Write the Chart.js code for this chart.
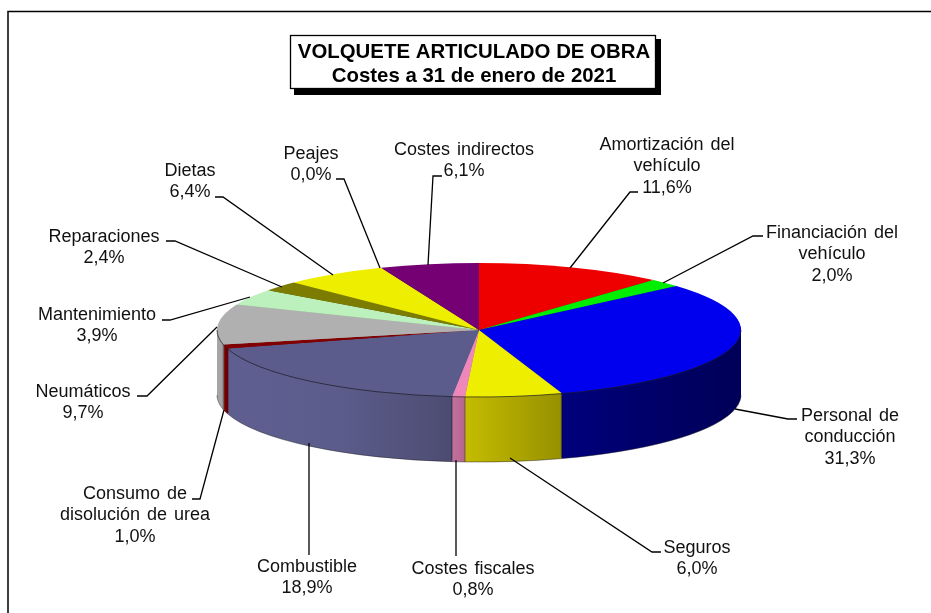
<!DOCTYPE html>
<html lang="es">
<head>
<meta charset="utf-8">
<title>Volquete articulado de obra</title>
<style>html,body{margin:0;padding:0;background:#fff}canvas{display:block}</style>
<script src="https://cdn.jsdelivr.net/npm/chart.js@4"></script>
</head>
<body>
<canvas id="c" width="931" height="613"></canvas>
<script>
const titleLines = ['VOLQUETE ARTICULADO DE OBRA', 'Costes a 31 de enero de 2021'];
const categories = ['Amortización del vehículo','Financiación del vehículo','Personal de conducción','Seguros','Costes fiscales','Combustible','Consumo de disolución de urea','Neumáticos','Mantenimiento','Reparaciones','Dietas','Peajes','Costes indirectos'];
const values = [11.6, 2.0, 31.3, 6.0, 0.8, 18.9, 1.0, 9.7, 3.9, 2.4, 6.4, 0.0, 6.1];

const topColors = ['#ee0000','#00ee00','#0000ee','#eeee00','#ee88bb','#5c5c8c','#800000','#b0b0b0','#bcf0bc','#7c7c00','#eeee00','#c0c0ff','#740074'];
const sideColors = [
  ['#990000','#990000','#990000'],['#009900','#009900','#009900'],['#00007c','#000068','#000058'],['#c4bc00','#aea600','#969000'],['#c4709e','#bc6c96','#b4668e'],
  ['#5e5e90','#5c5c8c','#4c4c72'],['#7a0000','#7a0000','#7a0000'],['#a6a6a6','#a0a0a0','#9a9a9a'],['#90b890','#90b890','#90b890'],['#505000','#505000','#505000'],
  ['#999900','#999900','#999900'],['#8080a0','#8080a0','#8080a0'],['#4c004c','#4c004c','#4c004c']
];
const labelBreaks = [['Amortización del','vehículo'],['Financiación del','vehículo'],['Personal de','conducción'],['Seguros'],['Costes fiscales'],['Combustible'],['Consumo de','disolución de urea'],['Neumáticos'],['Mantenimiento'],['Reparaciones'],['Dietas'],['Peajes'],['Costes indirectos']];
// label layout: centre x, y of first line
const labelAnchors = [[667,145],[832,233],[850,416],[697,548],[473,569],[307,567],[135,494],[83,392],[97,315],[104,237],[190,171],[311,154],[464,150]];
const leaderPaths = [
  [[638,192],[630,192],[570,268]],
  [[763,236],[753,236],[663,283]],
  [[797,419],[788,419],[735,409]],
  [[661,552],[652,552],[510,458]],
  [[456,556],[456,460]],
  [[309,555],[309,443]],
  [[192,499],[200,499],[224,410]],
  [[137,396],[147,396],[217,327]],
  [[162,320],[170,320],[250,297]],
  [[166,241],[175,241],[282,287]],
  [[215,197],[223,197],[333,275]],
  [[336,179],[344,179],[380,268]],
  [[442,176],[433,176],[428,265]]
];
const lineStep = 21.3;
const tilt = 67 / 262;
const depth = 65;

function xRange(arc) {
  const cx = arc.x, r = arc.outerRadius;
  const xs = [cx + r*Math.cos(arc.startAngle), cx + r*Math.cos(arc.endAngle)];
  const has = a => { for (let k=-2;k<=2;k++){const t=a+k*2*Math.PI; if(t>=arc.startAngle&&t<=arc.endAngle) return true;} return false; };
  if (has(Math.PI)) xs.push(cx-r);
  if (has(0)) xs.push(cx+r);
  return [Math.min(...xs), Math.max(...xs)];
}
function plainOpts(bg) {
  return {backgroundColor:bg,borderColor:bg,borderWidth:0,borderAlign:'center',borderJoinStyle:'round',borderRadius:0,offset:0,spacing:0,angle:0,circular:true,borderDash:[],borderDashOffset:0,selfJoin:false};
}
function lowerEdge(ctx, arc, dy) {
  const s = Math.max(arc.startAngle, 0), e = Math.min(arc.endAngle, Math.PI);
  if (e <= s) return;
  ctx.beginPath();
  ctx.ellipse(arc.x, arc.y + dy, arc.outerRadius, arc.outerRadius*tilt, 0, s, e);
  ctx.stroke();
}

const pie3d = {
  id: 'pie3d',
  beforeDraw(chart) {
    const ctx = chart.ctx;
    ctx.save();
    ctx.fillStyle = '#fff';
    ctx.fillRect(0,0,chart.width,chart.height);
    ctx.strokeStyle = '#000';
    ctx.lineWidth = 1.5;
    ctx.beginPath();
    ctx.moveTo(931,11.5); ctx.lineTo(8,11.5); ctx.lineTo(8,613);
    ctx.stroke();
    ctx.restore();
  },
  beforeDatasetDraw(chart) {
    const ctx = chart.ctx;
    const arcs = chart.getDatasetMeta(0).data;
    const cx = arcs[0].x, cy = arcs[0].y;
    const grads = arcs.map((a,i) => {
      const [x0,x1] = xRange(a);
      const g = ctx.createLinearGradient(x0,0,Math.max(x1,x0+1),0);
      g.addColorStop(0,sideColors[i][0]);
      g.addColorStop(0.5,sideColors[i][1]);
      g.addColorStop(1,sideColors[i][2]);
      return g;
    });
    for (let d = depth; d >= 1; d--) {
      ctx.save();
      ctx.translate(cx, cy + d);
      ctx.scale(1, tilt);
      ctx.translate(-cx, -cy);
      arcs.forEach((a,i) => {
        const p = Object.create(a);
        p.options = plainOpts(grads[i]);
        p.draw(ctx);
      });
      ctx.restore();
    }
    ctx.save();
    ctx.translate(cx, cy);
    ctx.scale(1, tilt);
    ctx.translate(-cx, -cy);
  },
  afterDatasetDraw(chart) {
    const ctx = chart.ctx;
    ctx.restore();
    const arcs = chart.getDatasetMeta(0).data;
    ctx.save();
    ctx.lineWidth = 1;
    arcs.forEach(a => {
      ctx.strokeStyle = 'rgba(25,25,35,.7)';
      lowerEdge(ctx, a, 0);
      ctx.strokeStyle = 'rgba(30,30,30,.45)';
      lowerEdge(ctx, a, depth);
      if (a.endAngle > 0 && a.endAngle < Math.PI) {
        const x = a.x + a.outerRadius*Math.cos(a.endAngle);
        const y = a.y + a.outerRadius*tilt*Math.sin(a.endAngle);
        ctx.strokeStyle = 'rgba(0,0,0,.35)';
        ctx.beginPath(); ctx.moveTo(x,y); ctx.lineTo(x,y+depth); ctx.stroke();
      }
    });
    ctx.restore();
  },
  afterDraw(chart) {
    const ctx = chart.ctx;
    ctx.save();
    ctx.strokeStyle = '#000';
    ctx.lineWidth = 1.3;
    leaderPaths.forEach(path => {
      ctx.beginPath();
      path.forEach((p,i) => i ? ctx.lineTo(p[0],p[1]) : ctx.moveTo(p[0],p[1]));
      ctx.stroke();
    });
    ctx.fillStyle = '#111';
    ctx.font = '18px "Liberation Sans", Arial, sans-serif';
    ctx.textAlign = 'center';
    ctx.textBaseline = 'middle';
    ctx.wordSpacing = '2px';
    categories.forEach((c,i) => {
      const lines = labelBreaks[i].concat(values[i].toFixed(1).replace('.',',') + '%');
      lines.forEach((t,j) => ctx.fillText(t, labelAnchors[i][0], labelAnchors[i][1] + j*lineStep));
    });
    // title box
    ctx.wordSpacing = '0px';
    ctx.fillStyle = '#000';
    ctx.fillRect(294,39,367,56);
    ctx.fillStyle = '#fff';
    ctx.fillRect(290.5,35.5,365,53);
    ctx.strokeRect(290.5,35.5,365,53);
    ctx.fillStyle = '#000';
    ctx.font = 'bold 20.4px "Liberation Sans", Arial, sans-serif';
    ctx.fillText(titleLines[0], 474, 52);
    ctx.fillText(titleLines[1], 474, 76);
    ctx.restore();
  }
};

new Chart(document.getElementById('c'), {
  type: 'pie',
  data: { labels: categories, datasets: [{ data: values, backgroundColor: topColors, borderWidth: 0, clip: false }] },
  options: {
    responsive: false,
    animation: false,
    events: [],
    layout: { padding: { left: 217, right: 190, top: 68, bottom: 21 } },
    plugins: { legend: { display: false }, tooltip: { enabled: false }, title: { display: false } }
  },
  plugins: [pie3d]
});
</script>
</body>
</html>
